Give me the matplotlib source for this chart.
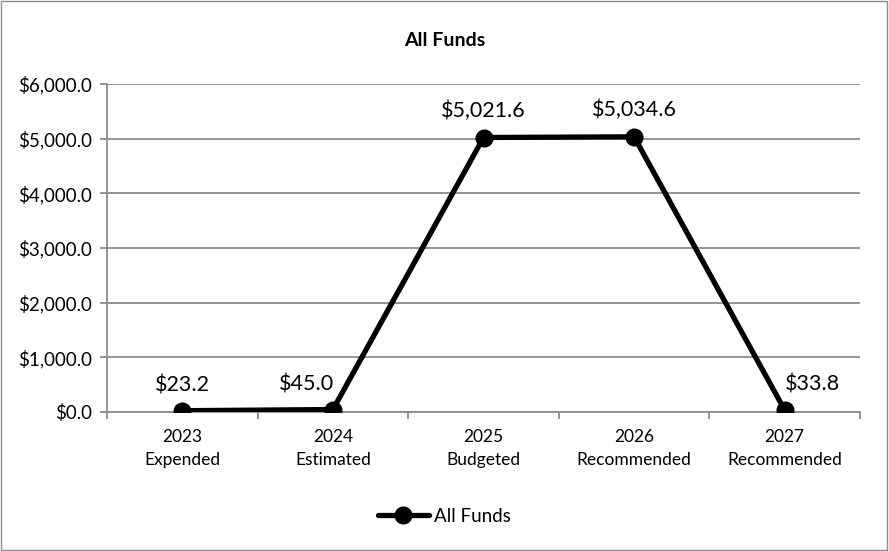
import matplotlib
matplotlib.use("Agg")
import matplotlib.pyplot as plt
from matplotlib.patches import Rectangle

plt.rcParams['font.family'] = ['Lato', 'DejaVu Sans']

# data
categories = ['2023\nExpended', '2024\nEstimated', '2025\nBudgeted', '2026\nRecommended', '2027\nRecommended']
values = [23.2, 45.0, 5021.6, 5034.6, 33.8]
yticks = [0, 1000, 2000, 3000, 4000, 5000, 6000]

fig = plt.figure(figsize=(8.89, 5.51), dpi=100)
ax = fig.add_axes([0.1204, 0.2523, 0.8470, 0.5952])

x = list(range(len(values)))
ax.plot(x, values, color='black', lw=3.8, marker='o', markersize=12, label='All Funds',
        solid_capstyle='round', zorder=3)

# data labels (2024 and 2027 nudged like in the original)
offsets = [(0, 11), (-19, 11), (0, 12), (0, 12), (20, 11)]
for xi, v, (dx, dy) in zip(x, values, offsets):
    ax.annotate(f'${v:,.1f}', (xi, v), xytext=(dx, dy), textcoords='offset points',
                ha='center', va='bottom', fontsize=15.5)

ax.set_xlim(-0.5, len(values) - 0.5)
ax.set_ylim(0, 6000)
ax.set_yticks(yticks)
ax.set_yticklabels([f'${t:,.1f}' for t in yticks], fontsize=13.5)
ax.yaxis.grid(True, color='#8c8c8c', lw=1.3)
ax.set_axisbelow(True)

ax.set_xticks([i + 0.5 for i in range(-1, len(values))])
ax.set_xticklabels([])
ax.set_xticks(x, minor=True)
ax.set_xticklabels(categories, minor=True, fontsize=12.5, linespacing=1.55)
ax.tick_params(axis='x', which='major', length=5, color='#8c8c8c', width=1.3)
ax.tick_params(axis='x', which='minor', length=0, pad=12)
ax.tick_params(axis='y', length=5, color='#8c8c8c', width=1.3, pad=6)

for s in ['top', 'right']:
    ax.spines[s].set_visible(False)
for s in ['left', 'bottom']:
    ax.spines[s].set_color('#8c8c8c')
    ax.spines[s].set_linewidth(1.3)

fig.text(0.5, 0.927, 'All Funds', ha='center', va='center', fontsize=14, fontweight='bold')
fig.legend(loc='center', bbox_to_anchor=(0.5, 0.063), frameon=False, fontsize=13.5,
           handlelength=2.7, handletextpad=0.3)

fig.patches.append(Rectangle((0.001, 0.001), 0.997, 0.997, transform=fig.transFigure,
                             fill=False, edgecolor='#8c8c8c', lw=1))

fig.savefig('out.png', dpi=100)
